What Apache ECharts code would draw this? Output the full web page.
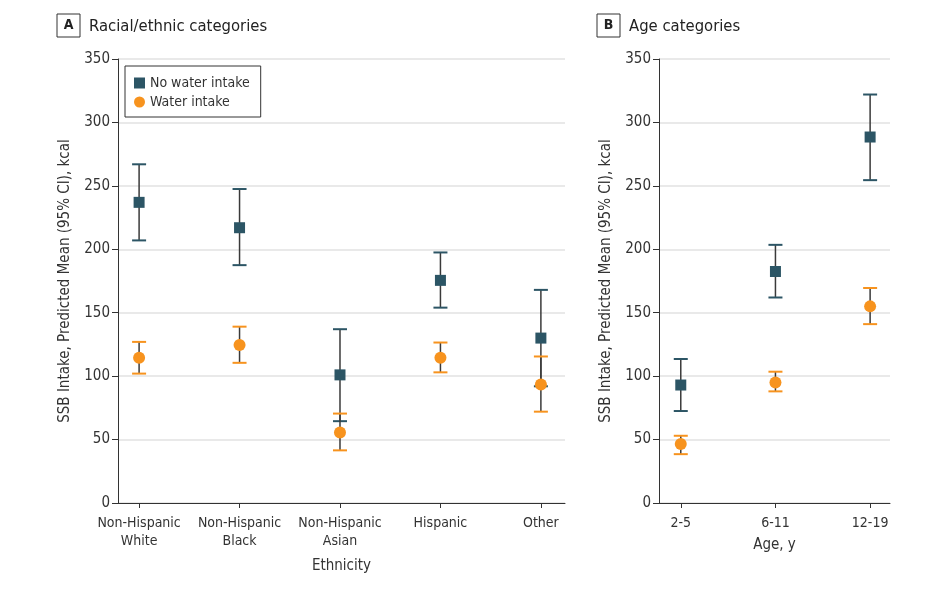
<!DOCTYPE html>
<html>
<head>
<meta charset="utf-8">
<script src="https://cdn.jsdelivr.net/npm/echarts@6/dist/echarts.min.js"></script>
<style>html,body{margin:0;padding:0;background:#fff}#c{width:927px;height:590px}</style>
</head>
<body>
<div id="c"></div>
<script>
// Panel A: racial/ethnic categories
var ethCategories = ['Non-Hispanic\nWhite', 'Non-Hispanic\nBlack', 'Non-Hispanic\nAsian', 'Hispanic', 'Other'];
var ethNoWaterMean = [237, 217, 101, 175.5, 130];
var ethNoWaterLow = [207, 187.5, 64.5, 154, 92];
var ethNoWaterHigh = [267, 247.5, 137, 197.5, 168];
var ethWaterMean = [114.5, 124.5, 55.5, 114.5, 93.5];
var ethWaterLow = [102, 110.5, 41.5, 103, 72];
var ethWaterHigh = [127, 139, 70.5, 126.5, 115.5];
// Panel B: age categories
var ageCategories = ['2-5', '6-11', '12-19'];
var ageNoWaterMean = [93, 182.5, 288.5];
var ageNoWaterLow = [72.5, 162, 254.5];
var ageNoWaterHigh = [113.5, 203.5, 322];
var ageWaterMean = [46.5, 95, 155];
var ageWaterLow = [38.5, 88, 141];
var ageWaterHigh = [53, 103.5, 169.5];
var yTicks = [0, 50, 100, 150, 200, 250, 300, 350];

var FONT = '"DejaVu Sans Condensed", "Noto Sans", sans-serif';
var TEAL = '#2c5565';
var ORANGE = '#f7931e';
var TXT = '#333333';

function pos(arr) { return arr.map(function (_, i) { return i + 1; }); }

function errData(mean, low, high) {
  return mean.map(function (m, i) { return [i + 1, low[i], high[i]]; });
}
function ptData(mean) {
  return mean.map(function (m, i) { return [i + 1, m]; });
}

function errSeries(name, data, color, gi) {
  return {
    type: 'custom', name: name + ' CI', xAxisIndex: gi, yAxisIndex: gi,
    silent: true, z: 2,
    renderItem: function (params, api) {
      var x = api.value(0);
      var lo = api.coord([x, api.value(1)]);
      var hi = api.coord([x, api.value(2)]);
      var hw = 7;
      return {
        type: 'group', children: [
          { type: 'line', shape: { x1: lo[0], y1: lo[1], x2: hi[0], y2: hi[1] }, style: { stroke: '#3a3a3a', lineWidth: 1.5 } },
          { type: 'line', shape: { x1: lo[0] - hw, y1: lo[1], x2: lo[0] + hw, y2: lo[1] }, style: { stroke: color, lineWidth: 2 } },
          { type: 'line', shape: { x1: hi[0] - hw, y1: hi[1], x2: hi[0] + hw, y2: hi[1] }, style: { stroke: color, lineWidth: 2 } }
        ]
      };
    },
    encode: { x: 0, y: [1, 2] },
    data: data
  };
}

function xAxis(gi, cats, min, max, name, nameGap) {
  return {
    type: 'value', gridIndex: gi, min: min, max: max,
    name: name, nameLocation: 'middle', nameGap: nameGap,
    nameTextStyle: { fontFamily: FONT, fontSize: 15, color: TXT },
    axisLine: { show: true, onZero: false, lineStyle: { color: '#333', width: 1 } },
    axisTick: { show: true, customValues: pos(cats), length: 5, lineStyle: { color: '#333' } },
    axisLabel: {
      customValues: pos(cats), fontFamily: FONT, fontSize: 14, color: TXT, margin: 11, lineHeight: 18,
      formatter: function (v) { return cats[Math.round(v) - 1] || ''; }
    },
    splitLine: { show: false }
  };
}
function yAxis(gi) {
  return {
    type: 'value', gridIndex: gi, min: 0, max: 350, interval: 50,
    name: 'SSB Intake, Predicted Mean (95% CI), kcal', nameLocation: 'middle', nameGap: 45,
    nameTextStyle: { fontFamily: FONT, fontSize: 15, color: TXT },
    axisLine: { show: true, lineStyle: { color: '#333', width: 1 } },
    axisTick: { show: true, length: 6, lineStyle: { color: '#333' } },
    axisLabel: { fontFamily: FONT, fontSize: 15, color: TXT, margin: 8 },
    splitLine: { show: true, lineStyle: { color: '#e2e2e2', width: 1.5 } }
  };
}

var boxRich = {
  box: { borderColor: '#333', borderWidth: 1, width: 23, height: 23, align: 'center', fontFamily: FONT, fontSize: 14, fontWeight: 'bold', color: '#222', lineHeight: 23 },
  t: { fontFamily: FONT, fontSize: 16.5, fontWeight: 'normal', color: '#222', padding: [2, 0, 0, 9] }
};

var chart = echarts.init(document.getElementById('c'), null, { renderer: 'canvas' });
chart.setOption({
  animation: false,
  backgroundColor: '#ffffff',
  title: [
    { left: 57, top: 14, padding: 0, text: '{box|A}{t|Racial/ethnic categories}', textStyle: { fontWeight: 'normal', rich: boxRich } },
    { left: 597, top: 14, padding: 0, text: '{box|B}{t|Age categories}', textStyle: { fontWeight: 'normal', rich: boxRich } }
  ],
  legend: {
    left: 125, top: 66, orient: 'vertical',
    borderColor: '#333', borderWidth: 1, padding: [10, 11, 8, 9], itemGap: 5,
    itemWidth: 11, itemHeight: 11,
    textStyle: { fontFamily: FONT, fontSize: 14, color: TXT },
    data: [
      { name: 'No water intake', icon: 'rect', itemStyle: { color: TEAL, opacity: 1 } },
      { name: 'Water intake', icon: 'circle', itemStyle: { color: ORANGE, opacity: 1 } }
    ]
  },
  grid: [
    { left: 118, right: 362, top: 59, bottom: 87 },
    { left: 659, right: 37, top: 59, bottom: 87 }
  ],
  xAxis: [
    xAxis(0, ethCategories, 0.79, 5.24, 'Ethnicity', 56),
    xAxis(1, ageCategories, 0.77, 3.21, 'Age, y', 35)
  ],
  yAxis: [yAxis(0), yAxis(1)],
  series: [
    errSeries('No water intake', errData(ethNoWaterMean, ethNoWaterLow, ethNoWaterHigh), TEAL, 0),
    errSeries('Water intake', errData(ethWaterMean, ethWaterLow, ethWaterHigh), ORANGE, 0),
    errSeries('No water intake', errData(ageNoWaterMean, ageNoWaterLow, ageNoWaterHigh), TEAL, 1),
    errSeries('Water intake', errData(ageWaterMean, ageWaterLow, ageWaterHigh), ORANGE, 1),
    { type: 'scatter', name: 'No water intake', xAxisIndex: 0, yAxisIndex: 0, symbol: 'rect', symbolSize: 11, itemStyle: { color: TEAL, opacity: 1 }, z: 3, data: ptData(ethNoWaterMean) },
    { type: 'scatter', name: 'Water intake', xAxisIndex: 0, yAxisIndex: 0, symbol: 'circle', symbolSize: 12, itemStyle: { color: ORANGE, opacity: 1 }, z: 4, data: ptData(ethWaterMean) },
    { type: 'scatter', name: 'No water intake', xAxisIndex: 1, yAxisIndex: 1, symbol: 'rect', symbolSize: 11, itemStyle: { color: TEAL, opacity: 1 }, z: 3, data: ptData(ageNoWaterMean) },
    { type: 'scatter', name: 'Water intake', xAxisIndex: 1, yAxisIndex: 1, symbol: 'circle', symbolSize: 12, itemStyle: { color: ORANGE, opacity: 1 }, z: 4, data: ptData(ageWaterMean) }
  ]
});
</script>
</body>
</html>
